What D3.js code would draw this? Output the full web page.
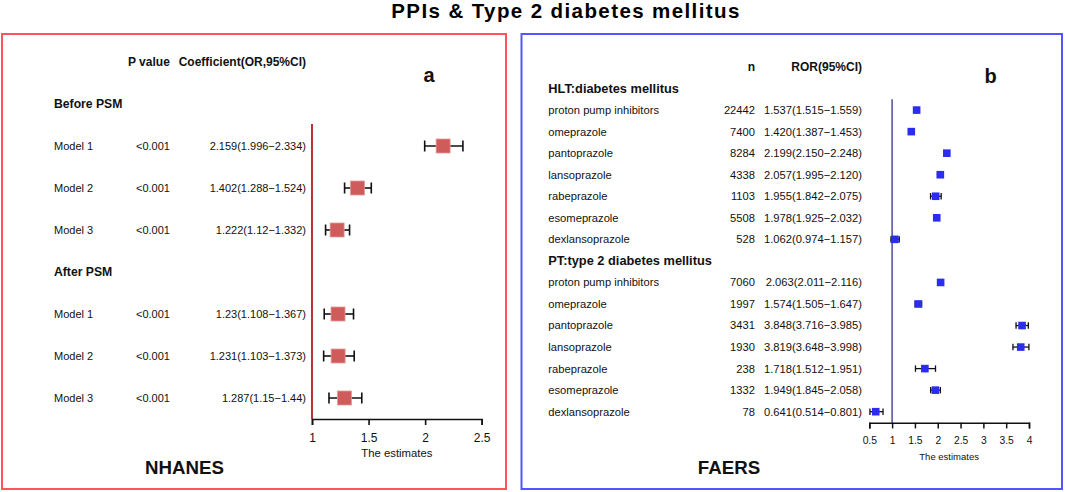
<!doctype html>
<html>
<head>
  <meta charset="utf-8">
  <title>PPIs & Type 2 diabetes mellitus</title>
  <script src="https://cdn.jsdelivr.net/npm/d3@7"></script>
  <style>
    body { margin: 0; background: #fff; }
    svg { display: block; font-family: "Liberation Sans", Arial, sans-serif; }
  </style>
</head>
<body>
  <div id="chart"></div>

  <script type="text/javascript">
    // ---- NHANES (panel a)
    var nhanesGroups = ['Before PSM', 'After PSM'];
    var nhanesModels = ['Model 1', 'Model 2', 'Model 3'];
    var nhanesP = ['<0.001', '<0.001', '<0.001', '<0.001', '<0.001', '<0.001'];
    var nhanesOR = [2.159, 1.402, 1.222, 1.23, 1.231, 1.287];
    var nhanesLow = [1.996, 1.288, 1.12, 1.108, 1.103, 1.15];
    var nhanesHigh = [2.334, 1.524, 1.332, 1.367, 1.373, 1.44];
    var nhanesTicks = [1, 1.5, 2, 2.5];

    // ---- FAERS (panel b)
    var faersGroups = ['HLT:diabetes mellitus', 'PT:type 2 diabetes mellitus'];
    var faersDrugs = ['proton pump inhibitors', 'omeprazole', 'pantoprazole', 'lansoprazole',
      'rabeprazole', 'esomeprazole', 'dexlansoprazole'];
    var hltN = [22442, 7400, 8284, 4338, 1103, 5508, 528];
    var hltROR = [1.537, 1.420, 2.199, 2.057, 1.955, 1.978, 1.062];
    var hltLow = [1.515, 1.387, 2.150, 1.995, 1.842, 1.925, 0.974];
    var hltHigh = [1.559, 1.453, 2.248, 2.120, 2.075, 2.032, 1.157];
    var ptN = [7060, 1997, 3431, 1930, 238, 1332, 78];
    var ptROR = [2.063, 1.574, 3.848, 3.819, 1.718, 1.949, 0.641];
    var ptLow = [2.011, 1.505, 3.716, 3.648, 1.512, 1.845, 0.514];
    var ptHigh = [2.116, 1.647, 3.985, 3.998, 1.951, 2.058, 0.801];
    var faersTicks = [0.5, 1, 1.5, 2, 2.5, 3, 3.5, 4];

    var width = 1065;
    var height = 492;

    var svg = d3.select('div#chart')
      .append('svg')
      .attr('width', width)
      .attr('height', height);

    // title
    svg.append('text')
      .attr('x', 566).attr('y', 11).attr('dy', '0.35em')
      .attr('text-anchor', 'middle')
      .attr('font-size', '20.5px').attr('font-weight', 'bold')
      .attr('letter-spacing', '1.4px')
      .text('PPIs & Type 2 diabetes mellitus');

    // panel frames
    svg.append('rect')
      .attr('x', 2).attr('y', 34).attr('width', 504).attr('height', 455)
      .attr('fill', 'none').attr('stroke', '#ff5555').attr('stroke-width', 2);
    svg.append('rect')
      .attr('x', 521.5).attr('y', 34).attr('width', 1062 - 521.5).attr('height', 455)
      .attr('fill', 'none').attr('stroke', '#5555ff').attr('stroke-width', 2);

    function txt(g, x, y, s, size, anchor, bold) {
      return g.append('text')
        .attr('x', x).attr('y', y).attr('dy', '0.35em')
        .attr('text-anchor', anchor || 'start')
        .attr('font-size', size + 'px')
        .attr('font-weight', bold ? 'bold' : 'normal')
        .attr('fill', '#111')
        .text(s);
    }

    // ================= panel a =================
    var ga = svg.append('g');
    var xA = d3.scaleLinear().domain([1, 2.5]).range([312, 481.7]);
    // row 0 = column header, 1 = Before PSM, 2-4 models, 5 = After PSM, 6-8 models
    var yA = d3.scaleLinear().domain([0, 8]).range([62, 398]);

    var rowsA = nhanesOR.map(function(d, i) {
      var grp = Math.floor(i / 3);
      return {
        row: grp * 4 + 2 + (i % 3),
        label: nhanesModels[i % 3],
        p: nhanesP[i],
        or: d, lo: nhanesLow[i], hi: nhanesHigh[i]
      };
    });

    txt(ga, 128, yA(0), 'P value', 12, 'start', true);
    txt(ga, 306, yA(0), 'Coefficient(OR,95%CI)', 12, 'end', true);
    nhanesGroups.forEach(function(g, i) { txt(ga, 54, yA(1 + i * 4), g, 12.2, 'start', true); });

    rowsA.forEach(function(r) {
      txt(ga, 54, yA(r.row), r.label, 11, 'start');
      txt(ga, 136, yA(r.row), r.p, 11, 'start');
      txt(ga, 306, yA(r.row), r.or + '(' + r.lo + '\u2212' + r.hi + ')', 11, 'end');
    });

    ga.append('line')
      .attr('x1', xA(1)).attr('x2', xA(1)).attr('y1', 124).attr('y2', 419)
      .attr('stroke', '#a80000').attr('stroke-width', 1.6);

    var ebA = ga.selectAll('g.eb').data(rowsA).enter().append('g').attr('class', 'eb');
    ebA.append('line')
      .attr('x1', function(d) { return xA(d.lo); }).attr('x2', function(d) { return xA(d.hi); })
      .attr('y1', function(d) { return yA(d.row); }).attr('y2', function(d) { return yA(d.row); })
      .attr('stroke', '#111').attr('stroke-width', 1.6);
    ['lo', 'hi'].forEach(function(k) {
      ebA.append('line')
        .attr('x1', function(d) { return xA(d[k]); }).attr('x2', function(d) { return xA(d[k]); })
        .attr('y1', function(d) { return yA(d.row) - 5.5; }).attr('y2', function(d) { return yA(d.row) + 5.5; })
        .attr('stroke', '#111').attr('stroke-width', 1.6);
    });
    ebA.append('rect')
      .attr('x', function(d) { return xA(d.or) - 7; })
      .attr('y', function(d) { return yA(d.row) - 7; })
      .attr('width', 14).attr('height', 14)
      .attr('fill', '#cf5b5b').attr('stroke', '#e49a9a').attr('stroke-width', 0.8);

    var axA = ga.append('g')
      .attr('transform', 'translate(0,419)')
      .call(d3.axisBottom(xA).tickValues(nhanesTicks).tickSize(6).tickPadding(8)
        .tickFormat(function(d) { return d; }));
    axA.select('.domain').attr('stroke', '#111').attr('stroke-width', 1.6);
    axA.selectAll('.tick line').attr('stroke', '#111').attr('stroke-width', 1.6);
    axA.selectAll('.tick text').attr('font-size', '12px').attr('font-family', 'inherit').attr('fill', '#111');
    txt(ga, (xA(1) + xA(2.5)) / 2, 453, 'The estimates', 11.3, 'middle');
    txt(ga, 429, 75, 'a', 20, 'middle', true);
    txt(ga, 184.5, 467.5, 'NHANES', 18.7, 'middle', true);

    // ================= panel b =================
    var gb = svg.append('g');
    var xB = d3.scaleLinear().domain([0.5, 4]).range([869.3, 1029]);
    // row 0 = column header, 1 = HLT, 2-8 drugs, 9 = PT, 10-16 drugs
    var yB = d3.scaleLinear().domain([0, 16]).range([67, 411.7]);

    var rowsB = [];
    [[hltN, hltROR, hltLow, hltHigh], [ptN, ptROR, ptLow, ptHigh]].forEach(function(s, g) {
      faersDrugs.forEach(function(drug, i) {
        rowsB.push({
          row: g * 8 + 2 + i, label: drug, n: s[0][i],
          or: s[1][i], lo: s[2][i], hi: s[3][i]
        });
      });
    });

    txt(gb, 755, yB(0), 'n', 12, 'end', true);
    txt(gb, 862, yB(0), 'ROR(95%CI)', 12, 'end', true);
    faersGroups.forEach(function(g, i) { txt(gb, 548.3, yB(1 + i * 8), g, 12.8, 'start', true); });

    rowsB.forEach(function(r) {
      txt(gb, 548.3, yB(r.row), r.label, 11.2, 'start');
      txt(gb, 755, yB(r.row), r.n, 11.2, 'end');
      txt(gb, 862, yB(r.row),
        r.or.toFixed(3) + '(' + r.lo.toFixed(3) + '\u2212' + r.hi.toFixed(3) + ')', 11.2, 'end');
    });

    gb.append('line')
      .attr('x1', xB(1)).attr('x2', xB(1)).attr('y1', 99.3).attr('y2', 422.7)
      .attr('stroke', '#5858a8').attr('stroke-width', 1.6);

    var ebB = gb.selectAll('g.eb').data(rowsB).enter().append('g').attr('class', 'eb');
    ebB.append('line')
      .attr('x1', function(d) { return xB(d.lo); }).attr('x2', function(d) { return xB(d.hi); })
      .attr('y1', function(d) { return yB(d.row); }).attr('y2', function(d) { return yB(d.row); })
      .attr('stroke', '#111').attr('stroke-width', 1.3);
    ['lo', 'hi'].forEach(function(k) {
      ebB.append('line')
        .attr('x1', function(d) { return xB(d[k]); }).attr('x2', function(d) { return xB(d[k]); })
        .attr('y1', function(d) { return yB(d.row) - 3.2; }).attr('y2', function(d) { return yB(d.row) + 3.2; })
        .attr('stroke', '#111').attr('stroke-width', 1.3);
    });
    ebB.append('rect')
      .attr('x', function(d) { return xB(d.or) - 3.8; })
      .attr('y', function(d) { return yB(d.row) - 3.8; })
      .attr('width', 7.6).attr('height', 7.6)
      .attr('fill', '#2b2bf2');

    var axB = gb.append('g')
      .attr('transform', 'translate(0,422.7)')
      .call(d3.axisBottom(xB).tickValues(faersTicks).tickSize(5.7).tickPadding(8)
        .tickFormat(function(d) { return d; }));
    axB.select('.domain').attr('stroke', '#111').attr('stroke-width', 1.5);
    axB.selectAll('.tick line').attr('stroke', '#111').attr('stroke-width', 1.5);
    axB.selectAll('.tick text').attr('font-size', '10.3px').attr('font-family', 'inherit').attr('fill', '#111');
    txt(gb, (xB(0.5) + xB(4)) / 2, 456.7, 'The estimates', 9.5, 'middle');
    txt(gb, 990.7, 76, 'b', 20, 'middle', true);
    txt(gb, 729, 467, 'FAERS', 18.7, 'middle', true);
  </script>
</body>
</html>
